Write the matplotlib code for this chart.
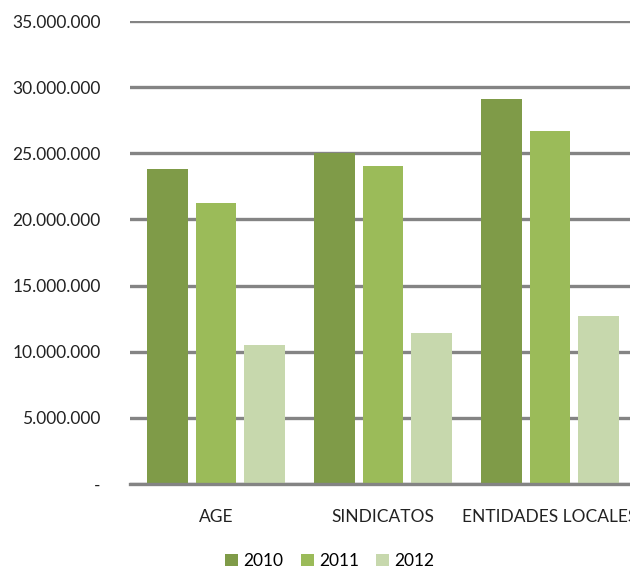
import matplotlib
matplotlib.use("Agg")
import matplotlib.pyplot as plt
import numpy as np

categories = ["AGE", "SINDICATOS", "ENTIDADES LOCALES"]
years = ["2010", "2011", "2012"]
v2010 = [23810000, 25030000, 29080000]
v2011 = [21240000, 24060000, 26680000]
v2012 = [10500000, 11410000, 12700000]
colors = ["#7F9B48", "#9BBB59", "#C7D8AD"]

plt.rcParams["font.family"] = ["Lato", "DejaVu Sans"]

fig = plt.figure(figsize=(6.3, 5.71), dpi=100)
ax = fig.add_axes([130/630, 1-484/571, 500/630, 463/571])

ind = np.arange(len(categories))
step = 0.29
width = 0.245
for i, (vals, c, y) in enumerate(zip([v2010, v2011, v2012], colors, years)):
    ax.bar(ind + (i-1)*step, vals, width, color=c, label=y, zorder=3)

ax.set_ylim(0, 35000000)
ax.set_xlim(-(216-130)/167, (630-216)/167)
ax.set_yticks(np.arange(0, 35000001, 5000000))
ax.set_yticklabels(["-" if t == 0 else "{:,.0f}".format(t).replace(",", ".")
                    for t in np.arange(0, 35000001, 5000000)], fontsize=12.5)
ax.yaxis.grid(True, color="#848484", linewidth=2.4, zorder=0)
ax.tick_params(axis="y", length=0, pad=21, labelcolor="#222222")
ax.tick_params(axis="x", length=0, pad=18, labelcolor="#222222")
ax.set_xticks(ind)
ax.set_xticklabels(categories, fontsize=12.5)
for s in ["top", "right", "left"]:
    ax.spines[s].set_visible(False)
ax.spines["bottom"].set_color("#848484")
ax.spines["bottom"].set_linewidth(2.4)
ax.spines["bottom"].set_zorder(4)

fig.legend(loc="center", bbox_to_anchor=(330/630, 1-561/571), ncol=3, frameon=False,
           fontsize=12.5, handlelength=0.75, handleheight=0.75, handletextpad=0.3,
           columnspacing=1.0)
fig.savefig("out.png", dpi=100)
